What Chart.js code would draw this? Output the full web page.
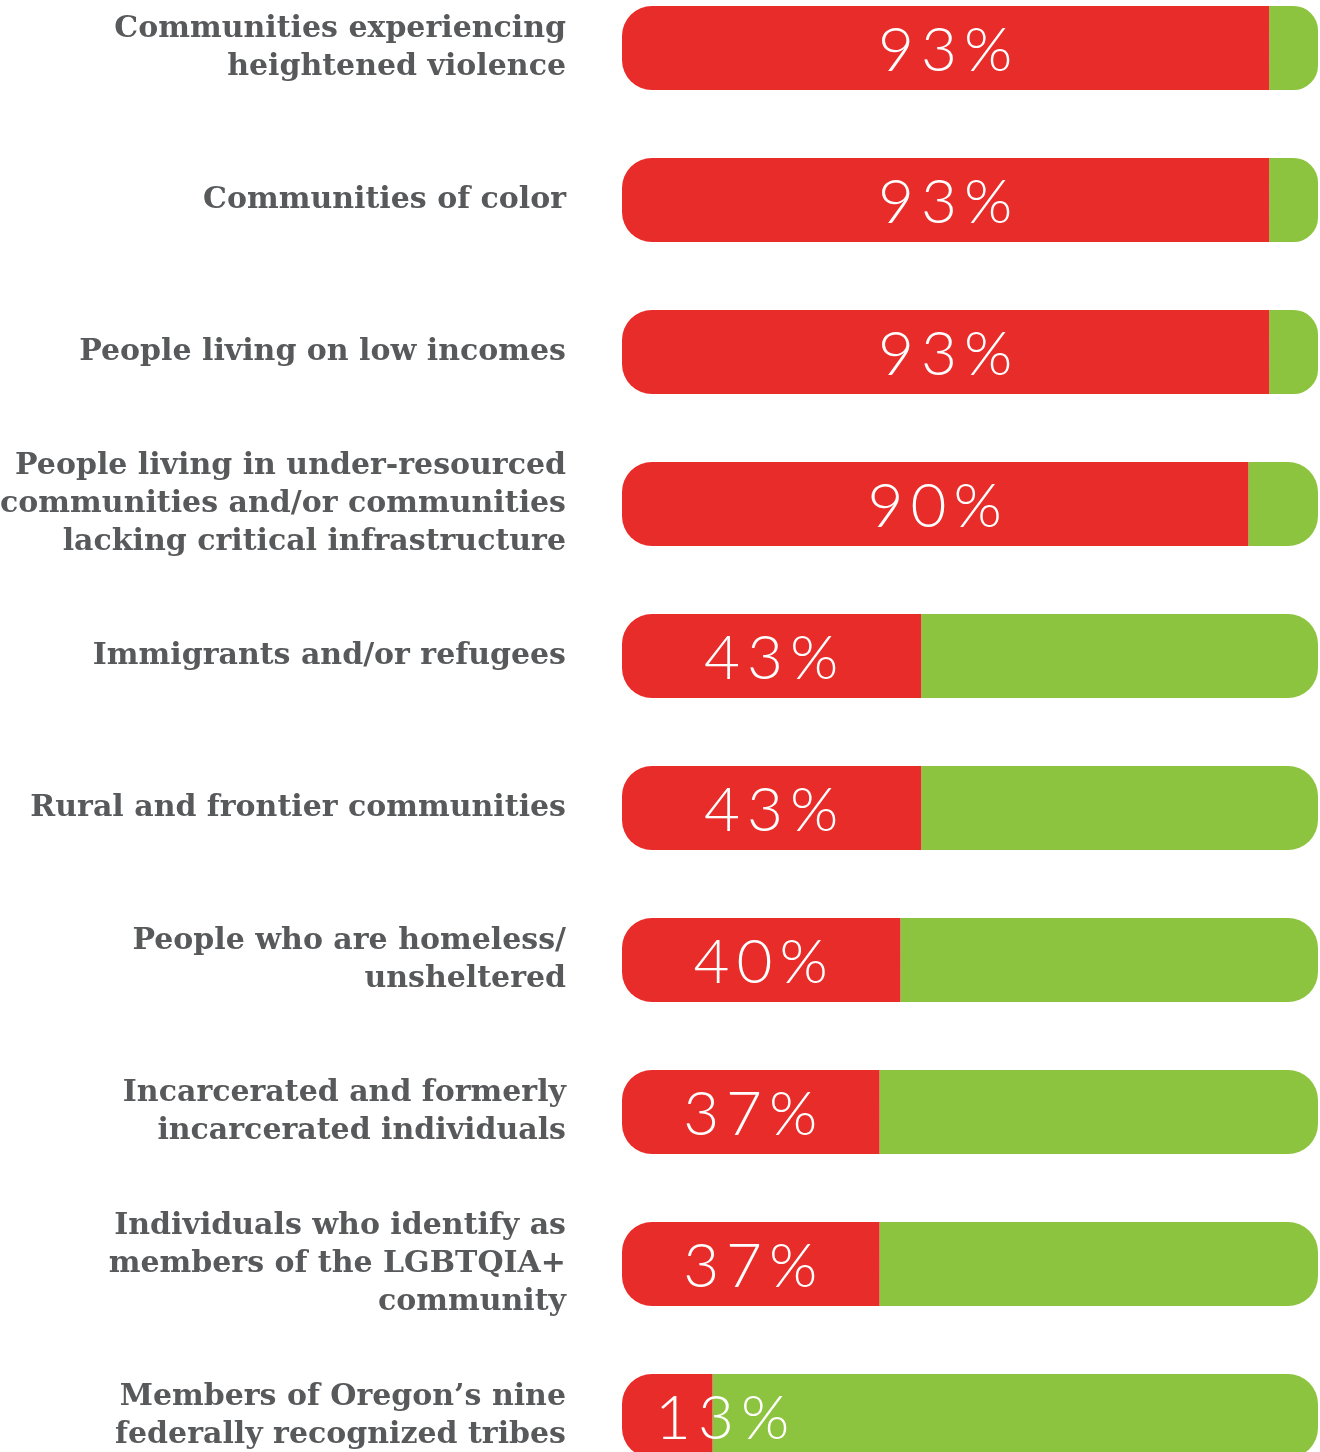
<!DOCTYPE html>
<html>
<head>
<meta charset="utf-8">
<script src="https://cdn.jsdelivr.net/npm/chart.js@4.4.1/dist/chart.umd.min.js"></script>
<style>
  html, body { margin: 0; padding: 0; background: #fff; overflow: hidden; }
  body { width: 1320px; height: 1452px; position: relative; }
  #wrap { position: absolute; left: 0; top: -28px; width: 1320px; height: 1520px; }
</style>
</head>
<body>
<div id="wrap"><canvas id="gapChart"></canvas></div>
<script>
// Categories (multi-line labels as drawn)
const categories = [
    ['Communities experiencing', 'heightened violence'],
    ['Communities of color'],
    ['People living on low incomes'],
    ['People living in under-resourced', 'communities and/or communities', 'lacking critical infrastructure'],
    ['Immigrants and/or refugees'],
    ['Rural and frontier communities'],
    ['People who are homeless/', 'unsheltered'],
    ['Incarcerated and formerly', 'incarcerated individuals'],
    ['Individuals who identify as', 'members of the LGBTQIA+', 'community'],
    ["Members of Oregon\u2019s nine", 'federally recognized tribes']
];
const percentValues = [93, 93, 93, 90, 43, 43, 40, 37, 37, 13];
const remainderValues = percentValues.map(v => 100 - v);

const RED = '#E82C2A';
const GREEN = '#8DC43F';

// Percent text inside the red segment
const percentLabels = {
    id: 'percentLabels',
    afterDatasetsDraw(chart) {
        const ctx = chart.ctx;
        const meta = chart.getDatasetMeta(0);
        ctx.save();
        ctx.font = '300 62px Lato, "Open Sans", sans-serif';
        ctx.letterSpacing = '7px';
        ctx.fillStyle = '#ffffff';
        ctx.textAlign = 'center';
        ctx.textBaseline = 'middle';
        meta.data.forEach((bar, i) => {
            const text = percentValues[i] + '%';
            const w = ctx.measureText(text).width;
            const start = bar.base;
            let x = (bar.base + bar.x) / 2;
            if (x - w / 2 < start + 30) x = start + 30 + w / 2;
            ctx.fillText(text, x + 3, bar.y + 3);
        });
        ctx.restore();
    }
};

const ctx = document.getElementById('gapChart').getContext('2d');
const gapChart = new Chart(ctx, {
    type: 'bar',
    data: {
        labels: categories,
        datasets: [{
            data: percentValues,
            backgroundColor: RED,
            borderSkipped: false,
            borderRadius: { topLeft: 30, bottomLeft: 30, topRight: 0, bottomRight: 0 },
            barPercentage: 1,
            categoryPercentage: 84 / 152
        }, {
            data: remainderValues,
            backgroundColor: GREEN,
            borderSkipped: false,
            borderRadius: { topLeft: 0, bottomLeft: 0, topRight: 30, bottomRight: 30 },
            barPercentage: 1,
            categoryPercentage: 84 / 152
        }]
    },
    options: {
        indexAxis: 'y',
        responsive: true,
        maintainAspectRatio: false,
        animation: false,
        layout: { padding: { left: 0, right: 2, top: 0, bottom: 0 } },
        plugins: {
            legend: { display: false },
            tooltip: { enabled: false }
        },
        scales: {
            x: {
                stacked: true,
                min: 0,
                max: 100,
                display: false
            },
            y: {
                stacked: true,
                grid: { display: false, drawTicks: false },
                border: { display: false },
                afterFit(scale) {
                    scale.width = 622;
                    scale.paddingTop = 0;
                    scale.paddingBottom = 0;
                },
                ticks: {
                    padding: 56,
                    color: '#58595B',
                    font: { family: '"DejaVu Serif"', size: 30, weight: 'bold', lineHeight: 38 / 30 }
                }
            }
        }
    },
    plugins: [percentLabels]
});
</script>
</body>
</html>
